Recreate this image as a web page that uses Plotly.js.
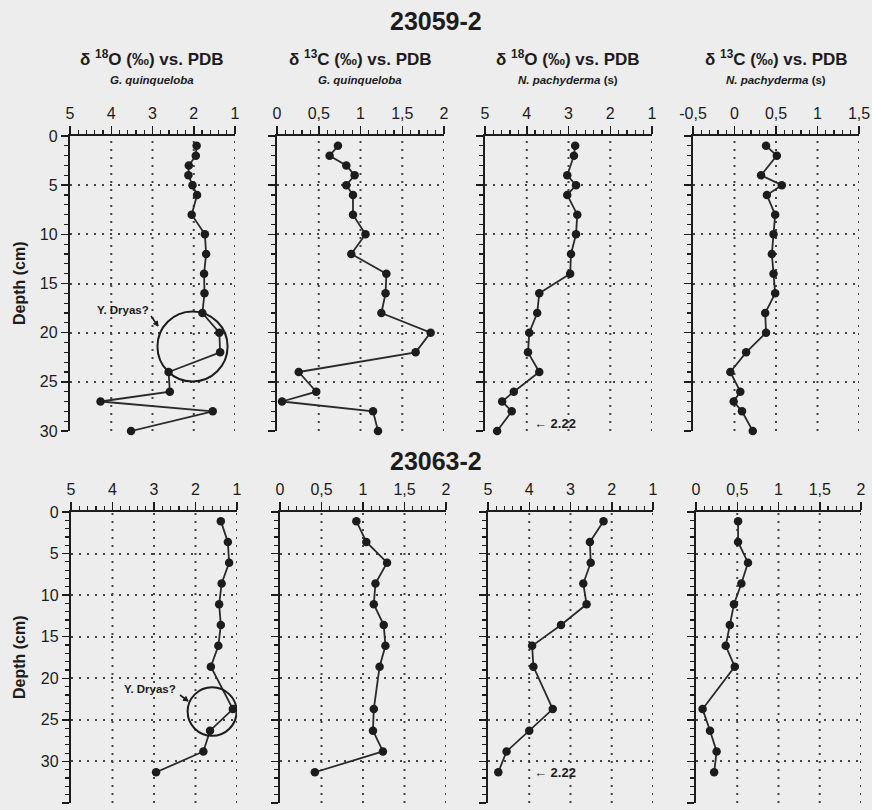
<!DOCTYPE html>
<html>
<head>
<meta charset="utf-8">
<script src="https://cdn.plot.ly/plotly-3.0.1.min.js"></script>
<style>html,body{margin:0;padding:0;background:#ededed;}#chart{width:872px;height:810px;}</style>
</head>
<body>
<div id="chart"></div>
<script>
// ---------- Core 23059-2 ----------
const depthTopGq = [1,2,3,4,5,6,8,10,12,14,16,18,20,22,24,26,27,28,30];
const d18O_Gq_23059 = [1.93,1.95,2.12,2.13,2.03,1.92,2.05,1.73,1.70,1.75,1.74,1.79,1.38,1.36,2.61,2.58,4.26,1.54,3.52];
const d13C_Gq_23059 = [0.73,0.63,0.83,0.93,0.83,0.91,0.91,1.06,0.89,1.31,1.30,1.25,1.84,1.66,0.26,0.47,0.06,1.15,1.21];
const depthTopNp = [1,2,4,5,6,8,10,12,14,16,18,20,22,24,26,27,28,30];
const d18O_Np_23059 = [2.84,2.87,3.03,2.82,3.03,2.79,2.82,2.94,2.96,3.70,3.75,3.94,3.97,3.70,4.31,4.59,4.36,4.71];
const d13C_Np_23059 = [0.38,0.51,0.32,0.57,0.39,0.49,0.47,0.45,0.47,0.49,0.37,0.38,0.14,-0.05,0.07,-0.01,0.09,0.22];

// ---------- Core 23063-2 ----------
const depthBottom = [1.1,3.6,6.1,8.6,11.1,13.6,16.1,18.6,23.7,26.3,28.8,31.3];
const d18O_Gq_23063 = [1.39,1.22,1.19,1.37,1.43,1.39,1.45,1.63,1.10,1.65,1.81,2.95];
const d13C_Gq_23063 = [0.92,1.04,1.29,1.15,1.13,1.25,1.27,1.20,1.13,1.12,1.24,0.42];
const d18O_Np_23063 = [2.20,2.53,2.51,2.69,2.61,3.23,3.93,3.90,3.43,4.00,4.55,4.75];
const d13C_Np_23063 = [0.51,0.51,0.63,0.55,0.46,0.41,0.36,0.47,0.08,0.17,0.25,0.22];

// Tick labels
const ticksO = [5,4,3,2,1];
const ticksOText = ["5","4","3","2","1"];
const ticksC = [0,0.5,1,1.5,2];
const ticksCText = ["0","0,5","1","1,5","2"];
const ticksC2 = [-0.5,0,0.5,1,1.5];
const ticksC2Text = ["-0,5","0","0,5","1","1,5"];
const depthTicksTop = [0,5,10,15,20,25,30];
const depthTicksBottom = [0,5,10,15,20,25,30,35];

// "Y. Dryas?" circles: [centre value, centre depth, radius value, radius depth]
const dryasTop = [2.03,21.4,0.85,3.56];
const dryasBottom = [1.60,24.0,0.59,2.92];

const W = 872, H = 810;
const px = v => v / W;
const py = v => 1 - v / H;

const INK = '#1c1c1c';
const GRID = '#444444';
const DASH = '2px,6px';
const FONT = 'Liberation Sans, Arial, sans-serif';

const panels = [
  {x: d18O_Gq_23059, y: depthTopGq, xd:[70,235], row:'top', range:[5,1], tv:ticksO, tt:ticksOText, minor:0.2},
  {x: d13C_Gq_23059, y: depthTopGq, xd:[277,444], row:'top', range:[0,2], tv:ticksC, tt:ticksCText, minor:0.1},
  {x: d18O_Np_23059, y: depthTopNp, xd:[485,652], row:'top', range:[5,1], tv:ticksO, tt:ticksOText, minor:0.2},
  {x: d13C_Np_23059, y: depthTopNp, xd:[693,859], row:'top', range:[-0.5,1.5], tv:ticksC2, tt:ticksC2Text, minor:0.1},
  {x: d18O_Gq_23063, y: depthBottom, xd:[71,237], row:'bot', range:[5,1], tv:ticksO, tt:ticksOText, minor:0.2},
  {x: d13C_Gq_23063, y: depthBottom, xd:[280,446], row:'bot', range:[0,2], tv:ticksC, tt:ticksCText, minor:0.1},
  {x: d18O_Np_23063, y: depthBottom, xd:[488,653], row:'bot', range:[5,1], tv:ticksO, tt:ticksOText, minor:0.2},
  {x: d13C_Np_23063, y: depthBottom, xd:[696,861], row:'bot', range:[0,2], tv:ticksC, tt:ticksCText, minor:0.1}
];

const rows = {
  top: {yd:[py(431), py(136)], range:[30,0], tv:depthTicksTop},
  bot: {yd:[py(803), py(512)], range:[35,0], tv:depthTicksBottom}
};

const data = [];
const layout = {
  width: W, height: H,
  margin: {l:0, r:0, t:0, b:0},
  paper_bgcolor: '#ededed',
  plot_bgcolor: 'rgba(0,0,0,0)',
  showlegend: false,
  font: {family: FONT, color: INK},
  annotations: [],
  shapes: []
};

panels.forEach((p, i) => {
  const n = i + 1;
  const sfx = (n === 1 ? '' : String(n));
  const r = rows[p.row];
  data.push({
    type: 'scatter', mode: 'lines+markers',
    x: p.x, y: p.y,
    xaxis: 'x' + sfx, yaxis: 'y' + sfx,
    line: {color: '#2a2a2a', width: 1.8},
    marker: {color: INK, size: 8.5},
    cliponaxis: false,
    hoverinfo: 'skip'
  });
  layout['xaxis' + sfx] = {
    domain: [px(p.xd[0]), px(p.xd[1])],
    anchor: 'y' + sfx,
    side: 'top',
    range: p.range,
    tickmode: 'array', tickvals: p.tv, ticktext: p.tt,
    ticks: 'outside', ticklen: 8, tickwidth: 1.5, tickcolor: INK,
    showline: true, linecolor: INK, linewidth: 2.2,
    showgrid: false,
    zeroline: false,
    tickfont: {family: FONT, size: 16, color: INK},
    minor: {dtick: p.minor, tick0: 0, ticks: 'outside', ticklen: 4, tickwidth: 1.2, tickcolor: INK, showgrid: false},
    fixedrange: true
  };
  layout['yaxis' + sfx] = {
    domain: r.yd,
    anchor: 'x' + sfx,
    range: r.range,
    tickmode: 'array', tickvals: r.tv, ticktext: r.tv.map(String),
    ticks: 'outside', ticklen: 7, tickwidth: 1.5, tickcolor: INK,
    showline: true, linecolor: INK, linewidth: 2.2,
    showgrid: true, gridcolor: GRID, gridwidth: 2, griddash: DASH,
    zeroline: false,
    showticklabels: (n === 1 || n === 5),
    tickfont: {family: FONT, size: 16, color: INK},
    minor: {dtick: 1, tick0: 0, ticks: 'outside', ticklen: 4, tickwidth: 1.2, tickcolor: INK, showgrid: false},
    fixedrange: true
  };
  // vertical dotted grid lines at the major x ticks (skip the one on the y-axis line)
  p.tv.forEach(v => {
    if (v === p.range[0]) return;
    layout.shapes.push({
      type: 'line', layer: 'below',
      xref: 'x' + sfx, yref: 'y' + sfx + ' domain',
      x0: v, x1: v, y0: 0, y1: 1,
      line: {color: GRID, width: 2, dash: DASH}
    });
  });
});

// Circles (Y. Dryas?)
[[dryasTop, 'x', 'y'], [dryasBottom, 'x5', 'y5']].forEach(([c, xr, yr]) => {
  layout.shapes.push({
    type: 'circle', xref: xr, yref: yr,
    x0: c[0] - c[2], x1: c[0] + c[2], y0: c[1] - c[3], y1: c[1] + c[3],
    line: {color: INK, width: 2}
  });
});

// small pointer arrows from labels to circles
function arrowPath(x0, y0, x1, y1) {
  const ang = Math.atan2(y1 - y0, x1 - x0);
  const L = 5, a = 0.5;
  const hx1 = x1 - L * Math.cos(ang - a), hy1 = y1 - L * Math.sin(ang - a);
  const hx2 = x1 - L * Math.cos(ang + a), hy2 = y1 - L * Math.sin(ang + a);
  layout.shapes.push({type:'line', xref:'paper', yref:'paper',
    x0: px(x0), y0: py(y0), x1: px(x1), y1: py(y1), line:{color: INK, width: 1.6}});
  layout.shapes.push({type:'path', xref:'paper', yref:'paper',
    path: `M ${px(x1)} ${py(y1)} L ${px(hx1)} ${py(hy1)} L ${px(hx2)} ${py(hy2)} Z`,
    fillcolor: INK, line:{color: INK, width: 1}});
}
arrowPath(151, 316, 158, 326);
arrowPath(180, 695, 188, 701);

function ann(text, x, y, size, opts) {
  layout.annotations.push(Object.assign({
    text: text, xref: 'paper', yref: 'paper', x: px(x), y: py(y),
    xanchor: 'center', yanchor: 'middle', showarrow: false,
    font: {family: FONT, size: size, color: INK, weight: 'bold'}
  }, opts || {}));
}

// Core titles
ann('23059-2', 436, 21, 25);
ann('23063-2', 436, 461, 25);

// Panel headers
const headers = [
  ['δ <sup>18</sup>O (‰) vs. PDB', '<i>G. quinqueloba</i>', 152],
  ['δ <sup>13</sup>C (‰) vs. PDB', '<i>G. quinqueloba</i>', 360],
  ['δ <sup>18</sup>O (‰) vs. PDB', '<i>N. pachyderma</i> (s)', 568],
  ['δ <sup>13</sup>C (‰) vs. PDB', '<i>N. pachyderma</i> (s)', 776]
];
headers.forEach(h => {
  ann(h[0], h[2], 58, 17);
  ann(h[1], h[2], 80, 11.5);
});

// Depth titles
ann('Depth (cm)', 19, 283, 16, {textangle: -90});
ann('Depth (cm)', 19, 657, 16, {textangle: -90});

// Y. Dryas labels
ann('Y. Dryas?', 123, 310, 11.5);
ann('Y. Dryas?', 150, 689, 11.5);

// "← 2.22" notes
ann('← 2.22', 555, 423, 13);
ann('← 2.22', 555, 772, 13);

Plotly.newPlot('chart', data, layout, {displayModeBar: false, staticPlot: true});
</script>
</body>
</html>
